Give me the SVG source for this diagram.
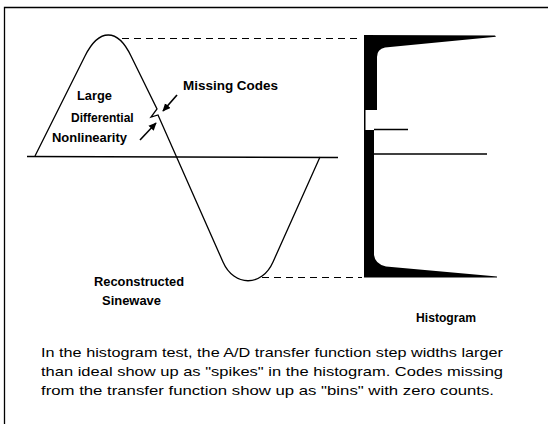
<svg xmlns="http://www.w3.org/2000/svg" width="548" height="424" viewBox="0 0 548 424">
<defs>
<marker id="ah" viewBox="0 0 10 10" refX="9" refY="5" markerWidth="8" markerHeight="8" orient="auto" markerUnits="userSpaceOnUse">
<path d="M0,0.5 L10,5 L0,9.5 Z" fill="#000"/>
</marker>
<style>
.ln{fill:none;stroke:#000;stroke-width:1.3}
.dash{fill:none;stroke:#000;stroke-width:1.2;stroke-dasharray:7 5}
.arr{fill:none;stroke:#000;stroke-width:1.6}
.lbl{font-family:"Liberation Sans",Arial,sans-serif;font-weight:bold;font-size:12px;fill:#000}
.para{font-family:"Liberation Sans",Arial,sans-serif;font-size:13.5px;fill:#000}
</style>
</defs>
<rect width="548" height="424" fill="#fff"/>
<g id="frame">
<path class="ln" d="M4.5,424 L4.5,7.5 L548,7.5" stroke-width="1.5"/>
</g>
<g id="axis">
<line class="ln" x1="27" y1="156.5" x2="338" y2="157.5"/>
</g>
<g id="sinewave">
<path class="ln" d="M35,156 L85,56 C99,28 117.6,28 131,56 L157,109 L151,117 L158,115 L223,262 C234,287 262,287 273,262 L320,157"/>
</g>
<g id="histogram">
<path fill="#000" d="M364,35 L495,35.5 L496,36.8 L385,47.5 Q377,49 377,57 L377,110 L365.5,110 L365.5,130 L374,130 L374,255 Q375,264 386,266.5 L497,276.5 L497,277.5 L364,277.5 Z"/>
<line class="ln" x1="374" y1="129.5" x2="408" y2="129.5" stroke-width="1.2"/>
<line class="ln" x1="374" y1="154" x2="487" y2="154" stroke-width="1.2"/>
</g>
<g id="connectors">
<line class="dash" x1="122" y1="38.5" x2="360" y2="38.5"/>
<line class="dash" x1="262" y1="277.5" x2="362" y2="277.5"/>
<line class="arr" x1="177" y1="95" x2="163" y2="111" marker-end="url(#ah)"/>
<line class="arr" x1="140" y1="140" x2="156" y2="123" marker-end="url(#ah)"/>
</g>
<g id="labels">
<text class="lbl" x="183" y="89.5" textLength="95" lengthAdjust="spacingAndGlyphs">Missing Codes</text>
<text class="lbl" x="77" y="100" textLength="35" lengthAdjust="spacingAndGlyphs">Large</text>
<text class="lbl" x="71" y="122">Differential</text>
<text class="lbl" x="52" y="141.5" textLength="75" lengthAdjust="spacingAndGlyphs">Nonlinearity</text>
<text class="lbl" x="94" y="286" textLength="90" lengthAdjust="spacingAndGlyphs">Reconstructed</text>
<text class="lbl" x="102" y="305" textLength="59" lengthAdjust="spacingAndGlyphs">Sinewave</text>
<text class="lbl" x="416" y="322" textLength="60" lengthAdjust="spacingAndGlyphs">Histogram</text>
</g>
<g id="caption">
<text class="para" x="41" y="357" textLength="462" lengthAdjust="spacingAndGlyphs">In the histogram test, the A/D transfer function step widths larger</text>
<text class="para" x="41" y="376" textLength="462" lengthAdjust="spacingAndGlyphs">than ideal show up as "spikes" in the histogram. Codes missing</text>
<text class="para" x="41" y="395" textLength="453" lengthAdjust="spacingAndGlyphs">from the transfer function show up as "bins" with zero counts.</text>
</g>
</svg>
